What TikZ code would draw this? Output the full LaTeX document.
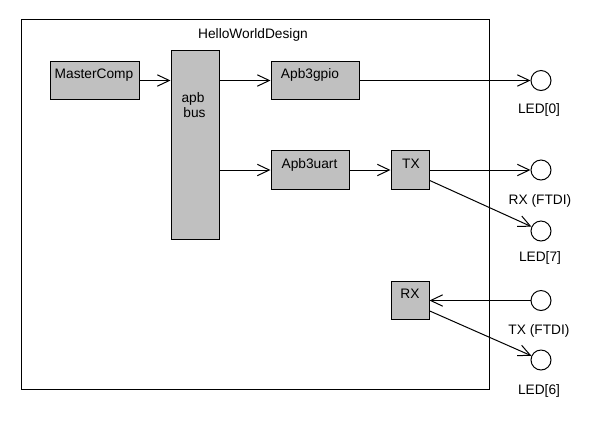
\documentclass[tikz,border=0pt]{standalone}
\usepackage{fontspec}
\setmainfont{Liberation Sans}
\usetikzlibrary{arrows.meta}
\begin{document}
\begin{tikzpicture}[x=0.75pt,y=-0.75pt,
  every node/.style={font=\fontsize{10.3pt}{12.4pt}\selectfont},
  box/.style={draw=black,line width=0.75pt,fill={rgb,255:red,192;green,192;blue,192},inner sep=0pt},
  port/.style={draw=black,line width=0.75pt,fill=white,circle,minimum size=15pt,inner sep=0pt},
  lbl/.style={anchor=base,inner sep=0pt},
  arr/.style={line width=0.75pt,-{Straight Barb[length=9pt,width=8.5pt,line width=0.75pt]}}]
\useasboundingbox (0,0) rectangle (600,430);
\node[draw=black,line width=0.75pt,minimum width=351pt,minimum height=277.5pt,inner sep=0pt] (frame) at (255,204) {};
\node[lbl] (title) at (253,38) {HelloWorldDesign};
% boxes
\node[box,minimum width=66.75pt,minimum height=28.5pt] (mc) at (94.5,80.5) {};
\node[box,minimum width=36pt,minimum height=141.75pt] (bus) at (195,144.5) {};
\node[box,minimum width=66pt,minimum height=28.5pt] (gpio) at (315,80.5) {};
\node[box,minimum width=58.5pt,minimum height=29.25pt] (uart) at (310,170) {};
\node[box,minimum width=28.5pt,minimum height=29.25pt] (tx) at (410,170) {};
\node[box,minimum width=28.5pt,minimum height=28.5pt] (rx) at (410,300.5) {};
% box texts
\node[lbl] (mct) at (94,78) {MasterComp};
\node[lbl] (apbt) at (193,102) {apb};
\node[lbl] (bust) at (194.5,117) {bus};
\node[lbl] (gpiot) at (310,78) {Apb3gpio};
\node[lbl] (uartt) at (309.5,168) {Apb3uart};
\node[lbl] (txt) at (411,168) {TX};
\node[lbl] (rxt) at (410,298) {RX};
% ports
\node[port] (led0) at (541,80.5) {};
\node[port] (rxf) at (541,170) {};
\node[port] (led7) at (541,231) {};
\node[port] (txf) at (541,300.5) {};
\node[port] (led6) at (541,360) {};
\node[lbl] (led0t) at (539,113) {LED[0]};
\node[lbl] (rxft) at (540,204) {RX (FTDI)};
\node[lbl] (led7t) at (540,261) {LED[7]};
\node[lbl] (txft) at (539,334) {TX (FTDI)};
\node[lbl] (led6t) at (539,394) {LED[6]};
% connectors
\draw[arr] (mc.east) -- (bus.west |- mc.east);
\draw[arr] (bus.east |- gpio.west) -- (gpio.west);
\draw[arr] (bus.east |- uart.west) -- (uart.west);
\draw[arr] (uart.east) -- (tx.west);
\draw[arr] (gpio.east) -- (led0.west);
\draw[arr] (tx.east) -- (rxf.west);
\draw[arr] (tx.-28) -- (led7);
\draw[arr] (txf.west) -- (rx.east);
\draw[arr] (rx.-28) -- (led6);
\end{tikzpicture}
\end{document}
